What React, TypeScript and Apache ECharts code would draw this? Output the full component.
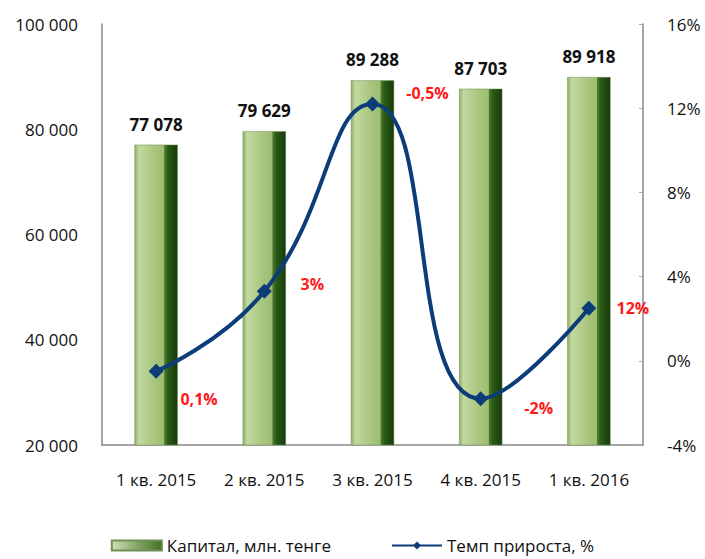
import React, { useEffect, useRef } from "react";
import * as echarts from "echarts";

const categories = ["1 кв. 2015", "2 кв. 2015", "3 кв. 2015", "4 кв. 2015", "1 кв. 2016"];
const capital = [77078, 79629, 89288, 87703, 89918];
const growth = [-0.5, 3.3, 12.2, -1.8, 2.5];
const growthLabels = ["0,1%", "3%", "-0,5%", "-2%", "12%"];
const growthLabelOffsets = [[43, 28], [48, -7], [55, -11], [58, 9], [44, 0]];
const leftTicks = [20000, 40000, 60000, 80000, 100000];

const fmtThousands = (v: number) =>
  String(Math.round(v)).replace(/\B(?=(\d{3})+(?!\d))/g, " ");

export default function App() {
  const ref = useRef<HTMLDivElement>(null);
  useEffect(() => {
    if (!ref.current) return;
    const chart = echarts.init(ref.current, null, { renderer: "svg" });
    const font = "'Open Sans', 'Noto Sans', sans-serif";
    const barGradient = new echarts.graphic.LinearGradient(0, 0, 1, 0, [
      { offset: 0, color: "#8fae6a" },
      { offset: 0.1, color: "#c2d9a0" },
      { offset: 0.45, color: "#a9c67f" },
      { offset: 0.68, color: "#9dbd72" },
      { offset: 0.7, color: "#4a7a2c" },
      { offset: 0.78, color: "#2b5a18" },
      { offset: 1, color: "#163a0a" },
    ]);
    chart.setOption({
      animation: false,
      textStyle: { fontFamily: font },
      grid: { left: 102, right: 62, top: 24, bottom: 114, containLabel: false },
      legend: {
        bottom: 0,
        left: "center",
        itemGap: 60,
        textStyle: { fontSize: 17, color: "#111", fontFamily: font },
        data: [
          { name: "Капитал, млн. тенге", icon: "rect", itemStyle: { color: new echarts.graphic.LinearGradient(0, 0, 1, 0, [{ offset: 0, color: "#cfe0b4" }, { offset: 1, color: "#3e7020" }]) } },
          { name: "Темп прироста, %" },
        ],
        itemWidth: 50,
        itemHeight: 10,
      },
      xAxis: {
        type: "category",
        data: categories,
        axisLine: { onZero: false, lineStyle: { color: "#888", width: 1.5 } },
        axisTick: { show: false },
        axisLabel: { fontSize: 17, color: "#111", margin: 26, fontFamily: font },
      },
      yAxis: [
        {
          type: "value",
          min: 20000,
          max: 100000,
          interval: 20000,
          splitLine: { show: false },
          axisLine: { show: true, lineStyle: { color: "#888", width: 1.5 } },
          axisTick: { show: false },
          axisLabel: {
            fontSize: 17,
            color: "#111",
            margin: 24,
            fontFamily: font,
            formatter: (v: number) => (leftTicks.includes(v) ? fmtThousands(v) : ""),
          },
        },
        {
          type: "value",
          min: -4,
          max: 16,
          interval: 4,
          splitLine: { show: false },
          axisLine: { show: true, lineStyle: { color: "#888", width: 1.5 } },
          axisTick: { show: true, inside: true, length: 4, lineStyle: { color: "#aaa" } },
          axisLabel: {
            fontSize: 17,
            color: "#111",
            margin: 24,
            fontFamily: font,
            formatter: (v: number) => `${v}%`,
          },
        },
      ],
      series: [
        {
          name: "Капитал, млн. тенге",
          type: "bar",
          yAxisIndex: 0,
          data: capital,
          barWidth: "40%",
          itemStyle: { color: barGradient, borderColor: "#6f8f55", borderWidth: 0.5 },
          label: {
            show: true,
            position: "top",
            distance: 12,
            fontSize: 17,
            fontWeight: "bold",
            color: "#111",
            fontFamily: font,
            formatter: (p: any) => fmtThousands(p.value),
          },
          z: 2,
        },
        {
          name: "Темп прироста, %",
          type: "line",
          yAxisIndex: 1,
          smooth: 0.5,
          data: growth.map((v, i) => ({
            value: v,
            label: {
              show: true,
              position: "inside",
              offset: growthLabelOffsets[i],
              formatter: growthLabels[i],
            },
          })),
          symbol: "diamond",
          symbolSize: 15,
          lineStyle: { color: "#0c3d78", width: 4 },
          itemStyle: { color: "#0c3d78" },
          label: {
            color: "#ff1a1a",
            fontSize: 16,
            fontWeight: "bold",
            fontFamily: font,
          },
          z: 5,
        },
      ],
    });
    return () => chart.dispose();
  }, []);
  return <div ref={ref} style={{ width: 705, height: 559, position: "absolute", left: 0, top: 0 }} />;
}
